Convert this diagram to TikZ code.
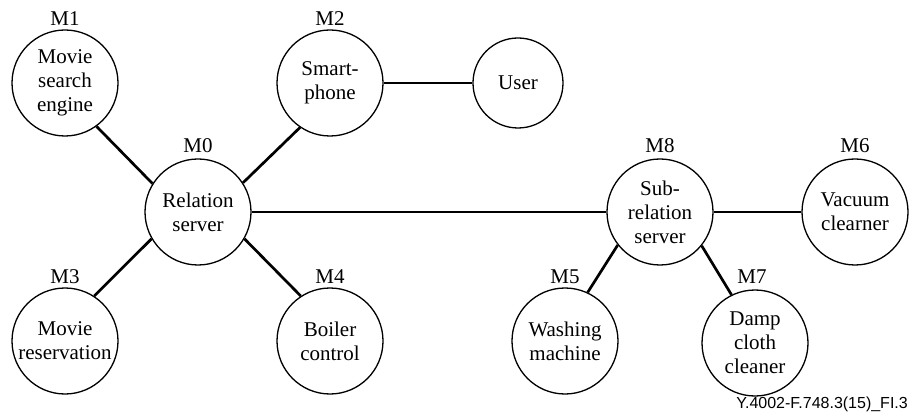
\documentclass[tikz,border=0pt]{standalone}
\usepackage{fontspec}
\setmainfont{Liberation Serif}
\newfontfamily\footfont{Liberation Sans}
\begin{document}
\begin{tikzpicture}[x=1pt,y=-1pt,
  unit/.style={circle, draw, line width=1.3pt, minimum size=106pt, inner sep=0pt,
    align=center, font=\fontsize{21}{24}\selectfont},
  tag/.style={inner sep=0pt, font=\fontsize{21}{24}\selectfont},
  link/.style={line width=2.7pt}]
\useasboundingbox (0,0) rectangle (909,419);

% modules
\node[unit] (m1) at (65,83) {Movie\\search\\engine};
\node[unit] (m2) at (330,83) {Smart-\\phone};
\node[unit, minimum size=90pt] (user) at (518,83) {User};
\node[unit] (m0) at (198,212) {Relation\\server};
\node[unit] (m8) at (660,212) {Sub-\\relation\\server};
\node[unit] (m6) at (855,212) {Vacuum\\clearner};
\node[unit] (m3) at (65,341) {Movie\\reservation};
\node[unit] (m4) at (330,341) {Boiler\\control};
\node[unit] (m5) at (565,341) {Washing\\machine};
\node[unit] (m7) at (755,343) {Damp\\cloth\\cleaner};

% module tags
\node[tag] (t1) at (65,19) {M1};
\node[tag] (t2) at (330,19) {M2};
\node[tag] (t0) at (198,146) {M0};
\node[tag] (t8) at (660,146) {M8};
\node[tag] (t6) at (855,146) {M6};
\node[tag] (t3) at (65,277) {M3};
\node[tag] (t4) at (330,277) {M4};
\node[tag] (t5) at (565,277) {M5};
\node[tag] (t7) at (752,277) {M7};

% relations
\draw[link] (m1.-54) -- (m0.148);
\draw[link] (m2.-124) -- (m0.33);
\draw[link] (m0.210) -- (m3.57);
\draw[link] (m0.-30) -- (m4.123);
\draw[link] (m2) -- (user);
\draw[link] (m0) -- (m8);
\draw[link] (m8) -- (m6);
\draw[link] (m8.-142) -- (m5.65);
\draw[link] (m8.-39) -- (m7.116);

% figure number
\node[anchor=base east, inner sep=0pt, font=\footfont\fontsize{16}{19}\selectfont]
  (fig) at (908,408) {Y.4002-F.748.3(15)\_FI.3};
\end{tikzpicture}
\end{document}
